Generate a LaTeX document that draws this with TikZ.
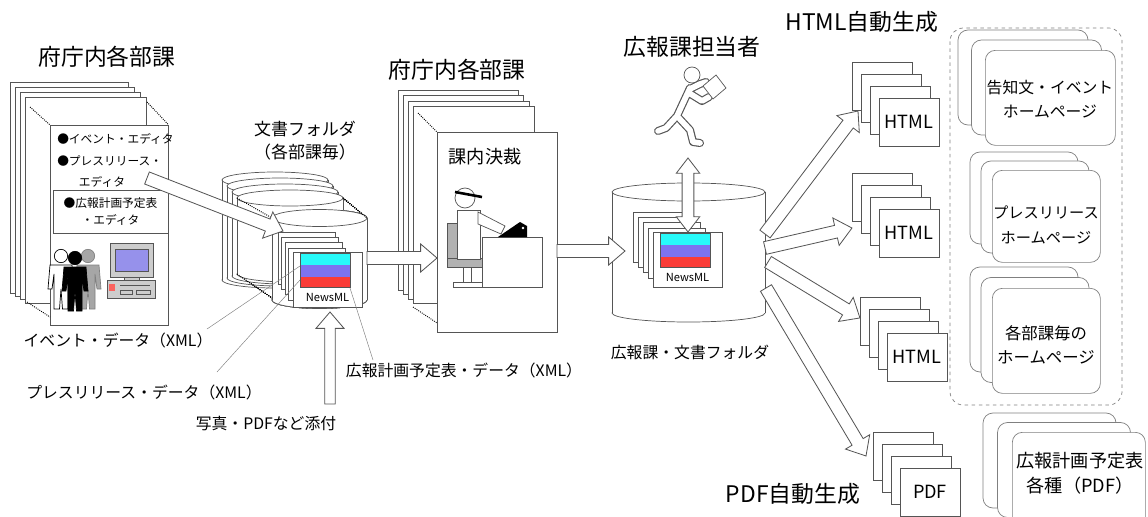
\documentclass[tikz,border=0pt]{standalone}
\usepackage{fontspec}
\setmainfont{Noto Sans CJK JP}
\usetikzlibrary{calc}

\definecolor{bandcyan}{RGB}{40,250,250}
\definecolor{bandblue}{RGB}{125,115,240}
\definecolor{bandred}{RGB}{250,60,55}
\definecolor{linegray}{RGB}{85,85,85}
\definecolor{screenblue}{RGB}{150,145,235}
\definecolor{casegray}{RGB}{205,205,205}

\tikzset{
  sheet/.style={draw=linegray, fill=white},
  ttl/.style={font=\fontsize{19.5}{22}\selectfont},
  subttl/.style={font=\fontsize{14.5}{19.5}\selectfont, align=center},
  lbl/.style={font=\fontsize{13.5}{16}\selectfont},
  edtext/.style={font=\fontsize{10}{14}\selectfont},
  cardtext/.style={font=\fontsize{13.5}{20.5}\selectfont, align=center},
  pagetext/.style={font=\fontsize{15.5}{18}\selectfont},
  leader/.style={draw=gray, thin},
  hollow/.style={draw=linegray, fill=white, line width=0.7pt},
  card/.style={draw=gray, fill=white, rounded corners=3mm},
  persp/.style={densely dotted, thick},
  newsml/.pic={
    \node[sheet, minimum width=20.7mm, minimum height=16.5mm, inner sep=0pt] (-doc) {};
    \fill[bandcyan] (-27.5,-26) rectangle (22.5,-15);
    \fill[bandblue] (-27.5,-15) rectangle (22.5,-3);
    \fill[bandred] (-27.5,-3) rectangle (22.5,8);
    \draw[linegray] (-27.5,-26) rectangle (22.5,8);
    \node[font=\fontsize{9.5}{10}\selectfont, inner sep=0pt] (-tag) at (0,18) {NewsML};
  },
  human/.pic={
    \draw[pic actions] (0,0) circle [radius=2mm];
    \draw[pic actions] (-11,9) -- (11,9) -- (13,33) -- (9,33) -- (7,18) -- (7,53) -- (1.5,53)
      -- (0,33) -- (-1.5,53) -- (-7,53) -- (-7,18) -- (-9,33) -- (-13,33) -- cycle;
  },
}

\newcommand\drum[5]{%
  \draw[sheet] (#1+#3/2,#2+#4) ellipse [x radius={(#3)*0.15mm}, y radius={(#5)*0.3mm}];
  \fill[white] (#1,#2) rectangle (#1+#3,#2+#4);
  \draw[linegray] (#1,#2) -- (#1,#2+#4) (#1+#3,#2) -- (#1+#3,#2+#4);
  \draw[sheet] (#1+#3/2,#2) ellipse [x radius={(#3)*0.15mm}, y radius={(#5)*0.3mm}];
}

\newcommand\blockarrow[3][5.5pt]{%
  \path let \p1=(#2), \p2=(#3) in \pgfextra{%
    \pgfmathsetmacro\arrang{atan2(\y2-\y1,\x2-\x1)}%
    \pgfmathsetmacro\arrlen{veclen(\x2-\x1,\y2-\y1)}%
    \global\let\arrang\arrang \global\let\arrlen\arrlen};
  \draw[hollow, shift={(#2)}, rotate=\arrang]
    (0pt,-#1) -- ({\arrlen pt-14pt},-#1) -- ({\arrlen pt-14pt},-12pt) -- ({\arrlen pt},0pt)
    -- ({\arrlen pt-14pt},12pt) -- ({\arrlen pt-14pt},#1) -- (0pt,#1) -- cycle;
}

\newcommand\twoway[2]{%
  \path let \p1=(#1), \p2=(#2) in \pgfextra{%
    \pgfmathsetmacro\arrang{atan2(\y2-\y1,\x2-\x1)}%
    \pgfmathsetmacro\arrlen{veclen(\x2-\x1,\y2-\y1)}%
    \global\let\arrang\arrang \global\let\arrlen\arrlen};
  \draw[hollow, shift={(#1)}, rotate=\arrang]
    (0pt,0pt) -- (13pt,-10pt) -- (13pt,-5pt) -- ({\arrlen pt-13pt},-5pt) -- ({\arrlen pt-13pt},-10pt)
    -- ({\arrlen pt},0pt) -- ({\arrlen pt-13pt},10pt) -- ({\arrlen pt-13pt},5pt) -- (13pt,5pt)
    -- (13pt,10pt) -- cycle;
}

\begin{document}
\begin{tikzpicture}[x=0.3mm, y=-0.3mm, line width=0.6pt]
\useasboundingbox (0,0) rectangle (1148,517);
\clip (0,0) rectangle (1148,517);

\node[ttl] (dept1ttl) at (107,57) {府庁内各部課};
\foreach \i in {0,...,3}
  \draw[sheet] (10+5*\i,82+5*\i) rectangle (128+6*\i,293+3.3*\i);
\node[sheet, minimum width=35.4mm, minimum height=60mm, inner sep=0pt] (dept1) at (109,225) {};
\draw[persp] (30,107) -- (dept1.north west) (147,102) -- (dept1.north east) (27,302) -- (50,317);
\node[edtext, anchor=west] (ed1) at (53,139) {●イベント・エディタ};
\node[edtext, anchor=west] (ed2) at (53,161) {●プレスリリース・};
\node[edtext] (ed2b) at (102,182) {エディタ};
\node[sheet, edtext, align=center, minimum width=34.5mm, minimum height=12.9mm, inner sep=0pt] (ed3) at (110.5,211.5) {●広報計画予定表\\・エディタ};

\pic[draw=black, fill=white] at (61,256) {human};
\pic[draw=gray, fill=gray!70] at (88,256) {human};
\pic[draw=black, fill=black] at (75,258) {human};

\draw[draw=linegray, fill=casegray] (110,243) rectangle (153,277);
\draw[draw=linegray, fill=screenblue] (115,249) rectangle (148,271);
\draw[draw=linegray, fill=casegray] (124,277) rectangle (139,280);
\draw[draw=linegray, fill=casegray] (107,280) rectangle (155,298);
\fill[bandred!80] (109,284) rectangle (115,291);
\draw[linegray] (120,285) -- (150,285) (120,290) rectangle (132,294) (136,290) rectangle (150,294);

\node[subttl] (foldttl) at (305,141) {文書フォルダ\\（各部課毎）};
\foreach \i in {0,...,3}
  \drum{222+5*\i}{180+6*\i}{106}{100-8*\i}{8}
\drum{272}{218}{95}{82}{8.5}
\draw[persp] (237,198) -- (272,218) (343,198) -- (367,218) (237,274) -- (272,298);

\coordinate (a1s) at (147,178);
\coordinate (a1e) at (283,231);
\blockarrow{a1s}{a1e}

\foreach \i in {0,...,3}
  \draw[sheet] (278+3.5*\i,232+5.3*\i) rectangle ++(57,52);
\pic (nmA) at (327.5,279.5) {newsml};

\coordinate (upS) at (330,404);
\coordinate (upE) at (330,312);
\blockarrow[4.5pt]{upS}{upE}

\node[lbl] (lev) at (118,340) {イベント・データ（XML）};
\node[lbl] (lpr) at (144,392) {プレスリリース・データ（XML）};
\node[lbl] (lsc) at (464,370) {広報計画予定表・データ（XML）};
\node[lbl] (lat) at (266,423) {写真・PDFなど添付};

\coordinate (qev) at (207,329);
\coordinate (pev) at (300,266);
\coordinate (qpr) at (217,372);
\coordinate (ppr) at (300,280);
\coordinate (qsc) at (373,360);
\coordinate (psc) at (350,288);
\draw[leader] (qev) -- (pev) (qpr) -- (ppr) (qsc) -- (psc);

\node[ttl] (dept2ttl) at (457,70) {府庁内各部課};
\foreach \i in {0,...,3}
  \draw[sheet] (398+5*\i,90+5.5*\i) rectangle (518+5.5*\i,290+4.5*\i);
\node[sheet, minimum width=36mm, minimum height=60mm, inner sep=0pt] (dept2) at (497,232) {};
\draw[persp] (418,113) -- (dept2.north west) (413,307) -- (437,323);
\node[subttl, font=\fontsize{15.5}{19}\selectfont] (ketsai) at (485,157) {課内決裁};

\draw[draw=linegray, fill=gray!60] (447,223) rectangle (457,262);
\draw[draw=linegray, fill=gray!60] (447,258) rectangle (482,267);
\draw[linegray] (463,267) -- (463,283) (471,267) -- (471,283);
\draw[sheet] (453,282) rectangle (483,287);
\draw[sheet] (457,210) rectangle (480,259);
\draw[sheet] (478,212) -- (505,226) -- (501,234) -- (478,224) -- cycle;
\draw[sheet] (465,198) circle [radius=3mm];
\draw[line width=2.2pt] (455,192) -- (482,197);
\draw[sheet] (482,237) rectangle (542,287);
\fill (498,237) -- (520,222) -- (527,226) -- (527,237) -- cycle;
\fill[white] (523,228) circle [radius=0.4mm];

\coordinate (a2s) at (367,258);
\coordinate (a2e) at (437,258);
\blockarrow{a2s}{a2e}

\node[ttl] (staffttl) at (692,47) {広報課担当者};
\foreach \w/\c in {2.4mm/linegray, 1.7mm/white}
  \draw[line width=\w, \c, line cap=round, line join=round]
    (690,88) -- (677,116) -- (666,128) -- (658,131)
    (677,116) -- (690,130) -- (693,142) -- (700,143)
    (689,93) -- (702,101) -- (709,97)
    (690,89) -- (700,84) -- (706,82);
\draw[sheet] (692,75) circle [radius=2.4mm];
\draw[sheet] (703,86) -- (716,75) -- (726,88) -- (713,99) -- cycle;

\drum{612}{192}{153}{121}{9}
\foreach \i in {0,...,3}
  \draw[sheet] (633+5*\i,212+5.3*\i) rectangle ++(57,50);
\pic (nmB) at (687.5,259.5) {newsml};
\coordinate (dbB) at (688,232);
\coordinate (dbT) at (688,158);
\twoway{dbB}{dbT}
\node[lbl] (prfoldlbl) at (690,352) {広報課・文書フォルダ};

\coordinate (a3s) at (557,251);
\coordinate (a3e) at (625,251);
\blockarrow{a3s}{a3e}

\node[ttl] (htmlttl) at (862,22) {HTML自動生成};
\node[ttl] (pdfttl) at (793,494) {PDF自動生成};
\foreach \sx/\sy/\nm/\tx in {852/62/h1/HTML, 852/173/h2/HTML, 860/297/h3/HTML, 873/432/pd/PDF}{
  \foreach \i in {0,1,2}
    \draw[sheet] (\sx+9*\i,\sy+12*\i) rectangle ++(60,48);
  \node[sheet, pagetext, minimum width=18mm, minimum height=14.4mm, inner sep=0pt] (\nm) at (\sx+57,\sy+60) {\tx};
}

\coordinate (o1) at (765,234);
\coordinate (o2) at (765,248);
\coordinate (o3) at (768,262);
\coordinate (o4) at (766,288);
\coordinate (i1) at (858,111);
\coordinate (i2) at (852,228);
\coordinate (i3) at (860,318);
\coordinate (i4) at (866,456);
\blockarrow{o1}{i1}
\blockarrow{o2}{i2}
\blockarrow{o3}{i3}
\blockarrow{o4}{i4}

\draw[dashed, gray, rounded corners=4mm] (950,28) rectangle (1122,405);
\foreach \cx/\cy/\w/\h/\dx/\dy/\nm in {958/30/130/95/13.5/10/c1, 970/152/108/92/11/9/c2, 970/267/108/105/11/10.5/c3, 983/413/133/95/14.5/9.5/c4}{
  \foreach \i in {0,1}
    \draw[card] (\cx+\dx*\i,\cy+\dy*\i) rectangle ++(\w,\h);
  \node[card, minimum width={\w*0.3mm}, minimum height={\h*0.3mm}, inner sep=0pt, anchor=north west] (\nm) at (\cx+2*\dx,\cy+2*\dy) {};
}
\node[cardtext] (k1) at (1050,99) {告知文・イベント\\ホームページ};
\node[cardtext, font=\fontsize{13}{21}\selectfont] (k2) at (1046,225) {プレスリリース\\ホームページ};
\node[cardtext, font=\fontsize{14}{21}\selectfont] (k3) at (1046,345) {各部課毎の\\ホームページ};
\node[cardtext, font=\fontsize{15.5}{21}\selectfont] (k4) at (1080,473) {広報計画予定表\\各種（PDF）};
\end{tikzpicture}
\end{document}
